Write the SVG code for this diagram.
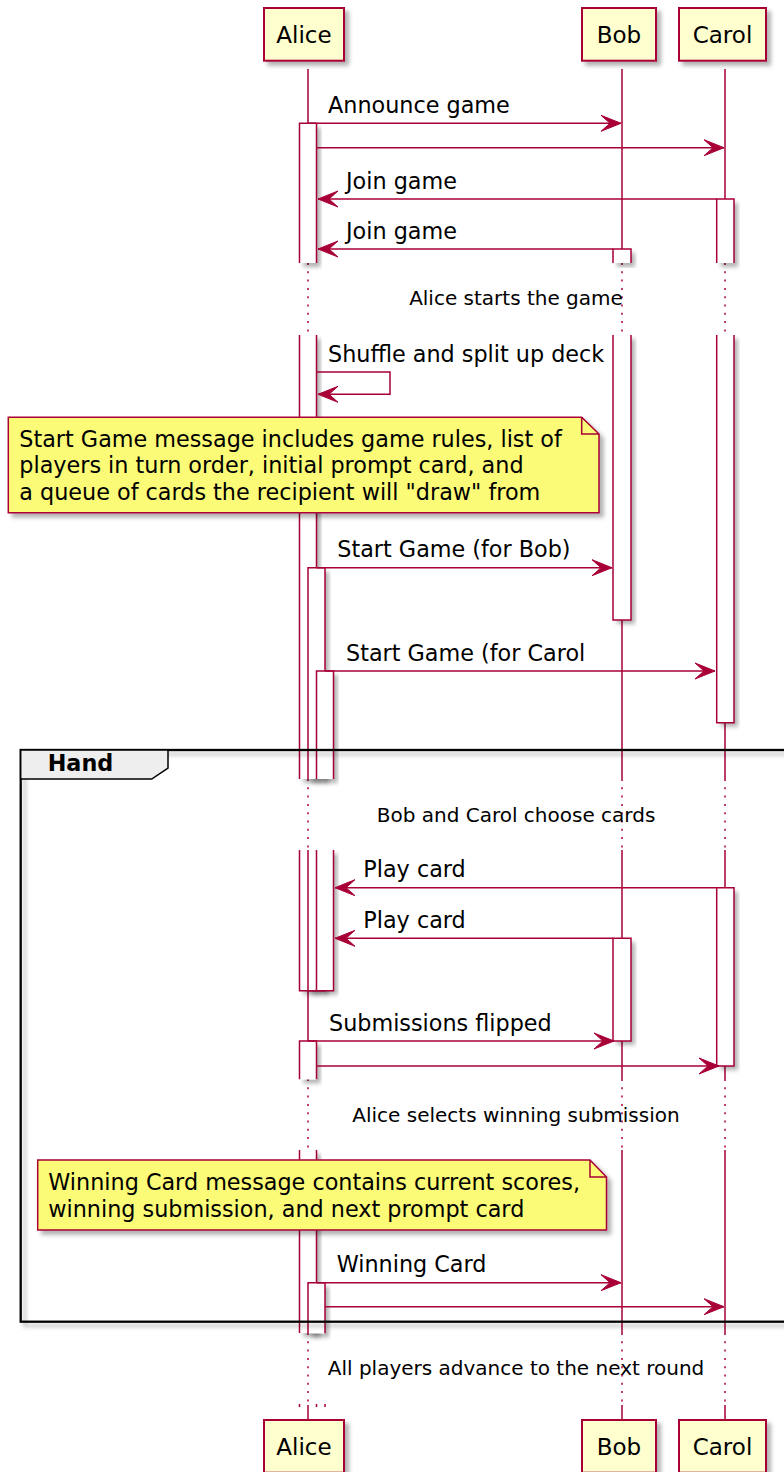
<svg xmlns="http://www.w3.org/2000/svg" width="784" height="1472" viewBox="0 0 784 1472">
<defs>
<filter id="sh" x="-20%" y="-20%" width="150%" height="150%">
<feDropShadow dx="4" dy="4" stdDeviation="2" flood-color="#000" flood-opacity="0.3"/>
</filter>
<marker id="ah" viewBox="0 0 22 18" refX="21" refY="9" markerWidth="22" markerHeight="18" orient="auto" markerUnits="userSpaceOnUse">
<path d="M1,1 L21,9 L1,17 L10,9 Z" fill="#A80036" stroke="#A80036" stroke-width="1"/>
</marker>
<style>
.pbox{fill:#FEFECE;stroke:#A80036;stroke-width:2;filter:url(#sh)}
.ptxt{font-family:"DejaVu Sans",Verdana,sans-serif;font-size:23px;fill:#000;text-anchor:middle}
.life{stroke:#A80036;stroke-width:1.5;fill:none}
.dot{stroke:#A80036;stroke-width:1.5;fill:none;stroke-dasharray:2 6.3}
.actf{fill:#FFFFFF;stroke:none;filter:url(#sh)}
.actl{fill:none;stroke:#A80036;stroke-width:1.5}
.msg{stroke:#A80036;stroke-width:1.5;fill:none;marker-end:url(#ah)}
.mtxt{font-family:"DejaVu Sans",Verdana,sans-serif;font-size:22.3px;fill:#000}
.dtxt{font-family:"DejaVu Sans",Verdana,sans-serif;font-size:20px;fill:#000;text-anchor:middle}
.note{fill:#FBFB77;stroke:#A80036;stroke-width:1.5;filter:url(#sh)}
.fold{fill:none;stroke:#A80036;stroke-width:1.5}
.frame{fill:none;stroke:#000;stroke-width:2.3;filter:url(#sh)}
.tab{fill:#EEEEEE;stroke:#000;stroke-width:1.5}
.ttxt{font-family:"DejaVu Sans",Verdana,sans-serif;font-size:22.3px;font-weight:bold;fill:#000}
</style>
</defs>
<rect width="784" height="1472" fill="#FFFFFF"/>

<g id="lifelines">
<path class="life" d="M308,69 V263 M308,335 V779 M308,850 V1079 M308,1150 V1333 M308,1405 V1420"/>
<path class="dot" d="M308,263 V335 M308,779 V850 M308,1079 V1150 M308,1333 V1405"/>
<path class="life" d="M622,69 V263 M622,335 V779 M622,850 V1079 M622,1150 V1333 M622,1405 V1420"/>
<path class="dot" d="M622,263 V335 M622,779 V850 M622,1079 V1150 M622,1333 V1405"/>
<path class="life" d="M725,69 V263 M725,335 V779 M725,850 V1079 M725,1150 V1333 M725,1405 V1420"/>
<path class="dot" d="M725,263 V335 M725,779 V850 M725,1079 V1150 M725,1333 V1405"/>
</g>

<g id="Alice-top"><rect class="pbox" x="264" y="8" width="80" height="52.7"/><text class="ptxt" x="304" y="42.5">Alice</text></g>
<g id="Bob-top"><rect class="pbox" x="582" y="8" width="74" height="52.7"/><text class="ptxt" x="619" y="42.5">Bob</text></g>
<g id="Carol-top"><rect class="pbox" x="679" y="8" width="87" height="52.7"/><text class="ptxt" x="722.5" y="42.5">Carol</text></g>
<g id="Alice-bottom"><rect class="pbox" x="264" y="1420" width="80" height="52.7"/><text class="ptxt" x="304" y="1455">Alice</text></g>
<g id="Bob-bottom"><rect class="pbox" x="582" y="1420" width="74" height="52.7"/><text class="ptxt" x="619" y="1455">Bob</text></g>
<g id="Carol-bottom"><rect class="pbox" x="679" y="1420" width="87" height="52.7"/><text class="ptxt" x="722.5" y="1455">Carol</text></g>

<g id="activations">
<!-- Alice level 1 -->
<rect class="actf" x="299.5" y="123.3" width="17" height="139.7"/>
<path class="actl" d="M299.5,263 V123.3 H316.5 V263"/>
<rect class="actf" x="299.5" y="335" width="17" height="444"/>
<path class="actl" d="M299.5,335 V779 M316.5,335 V779"/>
<!-- Bob -->
<rect class="actf" x="613" y="249" width="18" height="14"/>
<path class="actl" d="M613,263 V249 H631 V263"/>
<rect class="actf" x="613" y="335" width="18" height="285"/>
<path class="actl" d="M613,335 V620 H631 V335"/>
<!-- Carol -->
<rect class="actf" x="716.7" y="199" width="17.3" height="64"/>
<path class="actl" d="M716.7,263 V199 H734 V263"/>
<rect class="actf" x="716.7" y="335" width="17.3" height="387.7"/>
<path class="actl" d="M716.7,335 V722.7 H734 V335"/>
<!-- Alice level 2 -->
<rect class="actf" x="308" y="567.7" width="17" height="211.3"/>
<path class="actl" d="M308,779 V567.7 H325 V779"/>
<!-- Alice level 3 -->
<rect class="actf" x="316.5" y="671" width="17" height="108"/>
<path class="actl" d="M316.5,779 V671 H333.5 V779"/>
<!-- after divider 2 -->
<rect class="actf" x="299.5" y="850" width="17" height="140.7"/>
<path class="actl" d="M299.5,850 V990.7 H316.5 V850"/>
<rect class="actf" x="308" y="850" width="17" height="140.7"/>
<path class="actl" d="M308,850 V990.7 H325 V850"/>
<rect class="actf" x="316.5" y="850" width="17" height="140.7"/>
<path class="actl" d="M316.5,850 V990.7 H333.5 V850"/>
<rect class="actf" x="716.7" y="887.7" width="17.3" height="178.3"/>
<path class="actl" d="M716.7,887.7 V1066 H734 V887.7 Z"/>
<rect class="actf" x="613" y="938.3" width="18" height="102.7"/>
<path class="actl" d="M613,938.3 V1041 H631 V938.3 Z"/>
<!-- Alice level 1 again -->
<rect class="actf" x="299.5" y="1041" width="17" height="38.3"/>
<path class="actl" d="M299.5,1079.3 V1041 H316.5 V1079.3"/>
<rect class="actf" x="299.5" y="1150" width="17" height="183"/>
<path class="actl" d="M299.5,1150 V1333 M316.5,1150 V1333"/>
<rect class="actf" x="308" y="1282.7" width="17" height="50.6"/>
<path class="actl" d="M308,1333.3 V1282.7 H325 V1333.3"/>
<path class="actl" d="M299.5,1404 V1407 M316.5,1404 V1407 M325,1404 V1407"/>
</g>

<g id="group-Hand">
<rect class="frame" x="20.7" y="750" width="1000" height="571.7"/>
<path class="tab" d="M20.7,750 H168 V768 L151.7,779 H20.7 Z"/>
<text class="ttxt" x="47.7" y="770.7">Hand</text>
</g>

<g id="note-start">
<path class="note" d="M8.3,417.3 H581.7 L599,434 V512.7 H8.3 Z"/>
<path class="fold" d="M581.7,417.3 V434 H599"/>
<text class="mtxt" x="19.3" y="446.7">Start Game message includes game rules, list of</text>
<text class="mtxt" x="19.3" y="473.3">players in turn order, initial prompt card, and</text>
<text class="mtxt" x="19.3" y="500">a queue of cards the recipient will "draw" from</text>
</g>

<g id="note-winning">
<path class="note" d="M37.7,1160 H590 L606.5,1177 V1230 H37.7 Z"/>
<path class="fold" d="M590,1160 V1177 H606.5"/>
<text class="mtxt" x="48.3" y="1190">Winning Card message contains current scores,</text>
<text class="mtxt" x="48.3" y="1216.7">winning submission, and next prompt card</text>
</g>

<g id="dividers">
<text class="dtxt" x="516" y="305">Alice starts the game</text>
<text class="dtxt" x="516" y="821.7">Bob and Carol choose cards</text>
<text class="dtxt" x="516" y="1121.7">Alice selects winning submission</text>
<text class="dtxt" x="516" y="1375">All players advance to the next round</text>
</g>

<g id="connectors">
<path class="msg" d="M308,123.3 H621"/>
<text class="mtxt" x="328" y="113">Announce game</text>
<path class="msg" d="M316.5,147.7 H724"/>
<path class="msg" d="M716.7,199 H318"/>
<text class="mtxt" x="346" y="188.5">Join game</text>
<path class="msg" d="M613,249 H318"/>
<text class="mtxt" x="346" y="238.5">Join game</text>
<path class="msg" d="M316.5,372 H390 V394.3 H318"/>
<text class="mtxt" x="328" y="361.5">Shuffle and split up deck</text>
<path class="msg" d="M316.5,567.7 H612"/>
<text class="mtxt" x="337.3" y="557">Start Game (for Bob)</text>
<path class="msg" d="M325,671 H715"/>
<text class="mtxt" x="346" y="660.5">Start Game (for Carol</text>
<path class="msg" d="M716.7,887.7 H335"/>
<text class="mtxt" x="363.3" y="877">Play card</text>
<path class="msg" d="M613,938.3 H335"/>
<text class="mtxt" x="363.3" y="927.8">Play card</text>
<path class="msg" d="M308,1041 H614"/>
<text class="mtxt" x="329" y="1030.5">Submissions flipped</text>
<path class="msg" d="M316.5,1066 H719"/>
<path class="msg" d="M316.5,1282.7 H621"/>
<text class="mtxt" x="336.7" y="1272.2">Winning Card</text>
<path class="msg" d="M325,1306.7 H724"/>
</g>
</svg>
